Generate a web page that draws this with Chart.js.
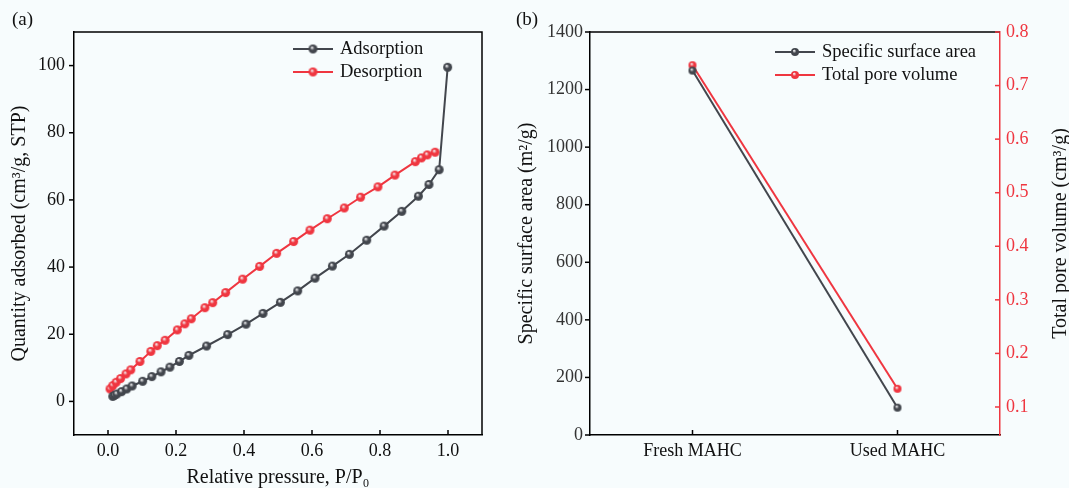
<!DOCTYPE html>
<html>
<head>
<meta charset="utf-8">
<script src="https://cdn.jsdelivr.net/npm/chart.js@4.4.1/dist/chart.umd.min.js"></script>
<style>
body { margin: 0; background: #f7fcfd; font-family: "Liberation Serif", serif; }
#wrap { position: relative; width: 1069px; height: 488px; overflow: hidden; }
.box { position: absolute; top: 0; height: 488px; }
.tag { position: absolute; top: 8px; font-size: 19px; color: #111; }
</style>
</head>
<body>
<div id="wrap">
  <div class="box" style="left:0;width:510px"><canvas id="isotherm"></canvas></div>
  <div class="box" style="left:510px;width:559px"><canvas id="texture"></canvas></div>
  <div class="tag" style="left:12px">(a)</div>
  <div class="tag" style="left:516px">(b)</div>
</div>
<script>
// (a) N2 isotherm
var pressureTicks = [0, 0.2, 0.4, 0.6, 0.8, 1.0];
var quantityTicks = [0, 20, 40, 60, 80, 100];
var adsPressure = [0.014, 0.019, 0.026, 0.040, 0.055, 0.071, 0.102, 0.129, 0.156, 0.182, 0.210, 0.238, 0.290, 0.352,
    0.406, 0.456, 0.507, 0.558, 0.609, 0.660, 0.710, 0.761, 0.812, 0.864, 0.913, 0.944, 0.974, 0.999];
var adsQuantity = [1.5, 1.8, 2.2, 2.9, 3.7, 4.6, 6.0, 7.4, 8.8, 10.2, 11.9, 13.7, 16.5, 19.9,
    23.0, 26.2, 29.5, 32.9, 36.7, 40.3, 43.8, 48.0, 52.2, 56.6, 61.1, 64.6, 69.0, 99.5];
var desPressure = [0.006, 0.014, 0.024, 0.037, 0.053, 0.067, 0.094, 0.126, 0.145, 0.168, 0.204, 0.226, 0.245, 0.285, 0.308,
    0.346, 0.396, 0.446, 0.496, 0.546, 0.594, 0.645, 0.695, 0.743, 0.794, 0.844, 0.904, 0.922, 0.939, 0.962];
var desQuantity = [3.7, 4.7, 5.7, 6.8, 8.2, 9.4, 11.9, 14.9, 16.6, 18.2, 21.3, 23.1, 24.6, 27.9, 29.4,
    32.4, 36.4, 40.2, 44.1, 47.6, 51.0, 54.4, 57.6, 60.8, 63.9, 67.4, 71.4, 72.5, 73.4, 74.2];

// (b) texture properties
var samples = ['Fresh MAHC', 'Used MAHC'];
var surfaceArea = [1266, 95];
var poreVolume = [0.738, 0.134];
var areaTicks = [0, 200, 400, 600, 800, 1000, 1200, 1400];
var volumeTicks = [0.1, 0.2, 0.3, 0.4, 0.5, 0.6, 0.7, 0.8];

var GRAY = '#42464d';
var RED = '#ef3640';
var tickFont = { family: '"Liberation Serif", serif', size: 18 };
var titleFont = { family: '"Liberation Serif", serif', size: 20, lineHeight: 1 };
var noGrid = { display: false, drawTicks: false };

function sphere(color, r) {
    var c = document.createElement('canvas');
    c.width = c.height = r * 2 + 2;
    var g = c.getContext('2d');
    var grad = g.createRadialGradient(r * 0.75 + 1, r * 0.65 + 1, 0.3, r + 1, r + 1, r);
    grad.addColorStop(0, '#f4f4f6');
    grad.addColorStop(0.45, color);
    grad.addColorStop(1, color);
    g.fillStyle = grad;
    g.beginPath();
    g.arc(r + 1, r + 1, r, 0, Math.PI * 2);
    g.fill();
    return c;
}

function pairs(xs, ys) {
    var out = [];
    for (var i = 0; i < xs.length; i++) out.push({ x: xs[i], y: ys[i] });
    return out;
}

function setTicks(list) {
    return function (scale) {
        scale.ticks = list.map(function (v) { return { value: v }; });
    };
}

// frame, inward/outward tick marks, legend inside plot, rotated right title
var decor = {
    id: 'decor',
    afterDraw: function (chart, args, opts) {
        var ctx = chart.ctx, a = chart.chartArea;
        ctx.save();
        ctx.lineWidth = 1.5;
        ctx.strokeStyle = '#000';
        ctx.beginPath();
        ctx.moveTo(a.left, a.top);
        ctx.lineTo(a.right, a.top);
        if (opts.closeRight) ctx.lineTo(a.right, a.bottom);
        ctx.stroke();

        Object.values(chart.scales).forEach(function (s) {
            ctx.strokeStyle = s.options.border.color;
            s.ticks.forEach(function (t, i) {
                var p = s.getPixelForTick(i);
                ctx.beginPath();
                if (s.position === 'bottom') { ctx.moveTo(p, a.bottom); ctx.lineTo(p, a.bottom - 5); }
                else if (s.position === 'left') { ctx.moveTo(a.left, p); ctx.lineTo(a.left - 5, p); }
                else { ctx.moveTo(a.right, p); ctx.lineTo(a.right - 5, p); }
                ctx.stroke();
            });
        });

        ctx.font = '18.5px "Liberation Serif", serif';
        ctx.textBaseline = 'middle';
        chart.data.datasets.forEach(function (ds, i) {
            var y = opts.legendY + i * 23;
            var x = opts.legendX;
            ctx.strokeStyle = ds.borderColor;
            ctx.lineWidth = 2;
            ctx.beginPath();
            ctx.moveTo(x, y);
            ctx.lineTo(x + 40, y);
            ctx.stroke();
            var img = ds.pointStyle;
            ctx.drawImage(img, x + 20 - img.width / 2, y - img.height / 2);
            ctx.fillStyle = '#111';
            ctx.fillText(ds.label, x + 47, y);
        });

        if (opts.rightTitle) {
            ctx.translate(opts.rightTitleX, (a.top + a.bottom) / 2);
            ctx.rotate(-Math.PI / 2);
            ctx.textAlign = 'center';
            ctx.font = '20px "Liberation Serif", serif';
            ctx.fillStyle = '#111';
            ctx.fillText(opts.rightTitle, 0, 0);
        }
        ctx.restore();
    }
};

var chartIsotherm = new Chart(document.getElementById('isotherm'), {
    type: 'scatter',
    data: {
        datasets: [{
            label: 'Adsorption',
            data: pairs(adsPressure, adsQuantity),
            showLine: true,
            borderColor: GRAY,
            borderWidth: 2,
            pointStyle: sphere(GRAY, 4.5),
            pointRadius: 4.5
        }, {
            label: 'Desorption',
            data: pairs(desPressure, desQuantity),
            showLine: true,
            borderColor: RED,
            borderWidth: 2,
            pointStyle: sphere(RED, 4.5),
            pointRadius: 4.5
        }]
    },
    options: {
        responsive: true,
        maintainAspectRatio: false,
        animation: false,
        layout: { padding: { top: 32, right: 28, left: 0, bottom: 0 } },
        plugins: {
            legend: { display: false },
            tooltip: { enabled: false },
            decor: { closeRight: true, legendX: 293, legendY: 49 }
        },
        scales: {
            x: {
                type: 'linear',
                min: -0.1,
                max: 1.1,
                afterBuildTicks: setTicks(pressureTicks),
                afterFit: function (s) { s.height = 53; },
                grid: noGrid,
                border: { display: true, color: '#000', width: 1.5 },
                ticks: { font: tickFont, color: '#111', padding: 5, maxRotation: 0, autoSkip: false,
                    callback: function (v) { return v.toFixed(1); } },
                title: { display: true, text: 'Relative pressure, P/P\u2080', font: titleFont, color: '#111',
                    padding: { top: 0, bottom: 0 } }
            },
            y: {
                min: -10,
                max: 110,
                afterBuildTicks: setTicks(quantityTicks),
                afterFit: function (s) { s.width = 74; },
                grid: noGrid,
                border: { display: true, color: '#000', width: 1.5 },
                ticks: { font: tickFont, color: '#111', padding: 9 },
                title: { display: true, text: 'Quantity adsorbed (cm\u00b3/g, STP)', font: titleFont, color: '#111',
                    padding: { top: 10, bottom: 0 } }
            }
        }
    },
    plugins: [decor]
});

var chartTexture = new Chart(document.getElementById('texture'), {
    type: 'line',
    data: {
        labels: samples,
        datasets: [{
            label: 'Specific surface area',
            data: surfaceArea,
            yAxisID: 'y',
            borderColor: GRAY,
            borderWidth: 2,
            pointStyle: sphere(GRAY, 4),
            pointRadius: 4
        }, {
            label: 'Total pore volume',
            data: poreVolume,
            yAxisID: 'y1',
            borderColor: RED,
            borderWidth: 2,
            pointStyle: sphere(RED, 4),
            pointRadius: 4
        }]
    },
    options: {
        responsive: true,
        maintainAspectRatio: false,
        animation: false,
        layout: { padding: { top: 32, right: 0, left: 0, bottom: 0 } },
        plugins: {
            legend: { display: false },
            tooltip: { enabled: false },
            decor: { closeRight: false, legendX: 265, legendY: 52,
                rightTitle: 'Total pore volume (cm\u00b3/g)', rightTitleX: 551 }
        },
        scales: {
            x: {
                type: 'category',
                offset: true,
                afterFit: function (s) { s.height = 53; },
                grid: noGrid,
                border: { display: true, color: '#000', width: 1.5 },
                ticks: { font: tickFont, color: '#111', padding: 5, maxRotation: 0 }
            },
            y: {
                position: 'left',
                min: 0,
                max: 1400,
                afterBuildTicks: setTicks(areaTicks),
                afterFit: function (s) { s.width = 80; },
                grid: noGrid,
                border: { display: true, color: '#000', width: 1.5 },
                ticks: { font: tickFont, color: '#333', padding: 7,
                    callback: function (v) { return String(v); } },
                title: { display: true, text: 'Specific surface area (m\u00b2/g)', font: titleFont, color: '#111',
                    padding: { top: 7, bottom: 0 } }
            },
            y1: {
                position: 'right',
                min: 0.0477,
                max: 0.8,
                afterBuildTicks: setTicks(volumeTicks),
                afterFit: function (s) { s.width = 69; },
                grid: noGrid,
                border: { display: true, color: RED, width: 1.5 },
                ticks: { font: tickFont, color: RED, padding: 6,
                    callback: function (v) { return v.toFixed(1); } }
            }
        }
    },
    plugins: [decor]
});
</script>
</body>
</html>
